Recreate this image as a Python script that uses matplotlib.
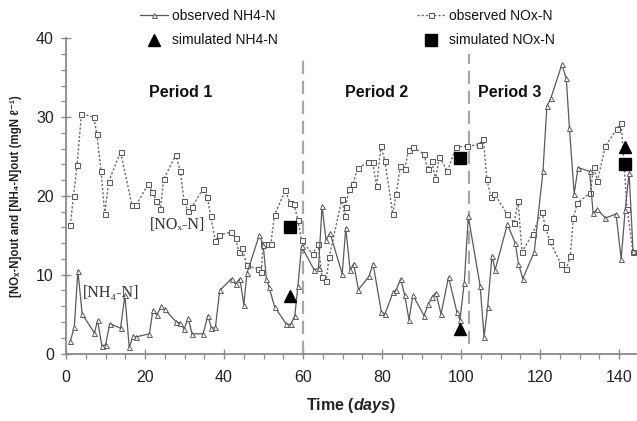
import matplotlib
matplotlib.use("Agg")
import matplotlib.pyplot as plt
from matplotlib.lines import Line2D
from matplotlib.ticker import MultipleLocator

plt.rcParams['font.family'] = ['Liberation Sans', 'DejaVu Sans']
plt.rcParams['mathtext.fontset'] = 'custom'
plt.rcParams['mathtext.rm'] = 'Liberation Sans:bold'
plt.rcParams['mathtext.it'] = 'Liberation Sans:italic:bold'
plt.rcParams['mathtext.bf'] = 'Liberation Sans:bold'

# ---- data ----
nox_days = [1.1, 1.9, 2.8, 3.9, 7.0, 7.8, 8.9, 9.8, 10.8, 13.8, 16.7, 17.7, 20.8, 21.8,
            22.9, 23.9, 24.7, 27.8, 28.9, 29.9, 30.9, 31.9, 34.7, 35.8, 36.6, 37.8, 38.8,
            41.7, 42.9, 43.7, 44.6, 45.7, 48.6, 49.4, 49.9, 51.0, 51.8, 52.8, 55.5, 56.7,
            57.7, 58.7, 59.6, 62.4, 63.8, 64.8, 65.8, 66.6, 69.8, 70.6, 70.8, 71.6, 72.6,
            73.8, 76.5, 77.6, 78.6, 79.7, 80.7, 82.7, 83.6, 84.6, 85.7, 86.7, 87.8, 90.6,
            91.5, 92.6, 93.5, 94.5, 96.5, 98.7, 101.4, 104.4, 105.6, 106.5, 107.5, 108.4,
            111.6, 113.4, 114.4, 115.4, 118.1, 120.4, 121.3, 122.4, 125.2, 126.6, 127.6,
            128.4, 129.4, 132.7, 133.5, 134.5, 136.5, 139.4, 140.5, 142.0, 143.5]
nox_obs = [16.3, 20.0, 23.9, 30.4, 30.0, 27.9, 23.1, 17.7, 21.8, 25.6, 18.8, 18.8, 21.5, 20.5,
           19.4, 18.3, 22.1, 25.2, 23.2, 19.3, 18.1, 18.6, 20.9, 19.9, 17.4, 14.3, 15.0,
           15.4, 14.7, 12.9, 13.4, 11.2, 10.7, 10.3, 13.9, 13.9, 13.9, 17.6, 20.7, 19.1,
           19.0, 16.9, 14.4, 12.6, 13.9, 9.7, 9.2, 12.2, 19.6, 17.4, 18.6, 20.9, 21.5,
           23.5, 24.3, 24.3, 21.2, 26.3, 24.4, 17.7, 20.3, 23.8, 23.4, 25.8, 26.2, 25.3,
           23.4, 24.4, 22.1, 25.0, 23.1, 26.2, 26.3, 26.5, 27.2, 22.2, 19.9, 20.3,
           17.7, 16.6, 19.3, 12.9, 15.2, 18.0, 16.1, 14.3, 11.4, 10.7, 12.4,
           17.2, 19.1, 20.4, 23.7, 21.9, 26.3, 28.5, 29.3, 18.3, 12.9]

nh4_days = [1.1, 2.1, 3.0, 4.1, 7.2, 8.0, 9.1, 10.0, 11.1, 13.8, 14.9, 16.0, 17.0, 17.7,
            21.1, 22.0, 23.0, 24.1, 25.0, 27.9, 28.9, 29.9, 30.9, 31.9, 34.7, 35.9, 36.8,
            37.8, 38.9, 41.9, 42.9, 44.0, 45.0, 45.8, 48.9, 49.9, 50.7, 51.4, 52.8, 55.8,
            56.9, 57.9, 58.7, 59.6, 62.8, 63.9, 64.8, 65.8, 66.8, 69.9, 70.8, 71.9, 72.8,
            74.0, 76.7, 77.7, 79.8, 80.7, 82.8, 83.6, 84.7, 85.7, 86.8, 87.8, 90.6, 91.7,
            92.7, 93.6, 94.9, 96.8, 98.9, 99.7, 100.8, 101.8, 104.8, 105.8, 106.7, 107.8,
            108.6, 111.7, 113.7, 114.5, 115.6, 118.5, 120.7, 121.7, 122.7, 125.5, 126.6,
            127.4, 128.6, 129.6, 132.5, 133.4, 134.4, 136.5, 139.2, 140.5, 141.5, 142.5, 143.5]
nh4_obs = [1.6, 3.3, 10.5, 5.0, 2.6, 4.2, 0.9, 1.1, 3.8, 3.2, 7.4, 0.8, 2.2, 2.1,
           2.5, 5.5, 4.9, 6.0, 5.6, 4.0, 3.9, 3.1, 4.5, 2.5, 2.5, 4.8, 3.2,
           3.3, 8.0, 9.5, 8.8, 9.5, 6.2, 10.2, 15.0, 13.8, 9.5, 8.4, 5.9, 3.7,
           3.7, 4.8, 8.6, 13.6, 10.6, 10.8, 18.7, 14.4, 15.3, 10.1, 15.9, 10.6, 11.4,
           8.1, 9.8, 11.4, 5.3, 5.0, 7.8, 8.1, 9.5, 7.4, 4.3, 7.4, 4.8, 6.3,
           7.2, 7.7, 5.0, 9.7, 5.3, 4.3, 9.0, 17.4, 8.6, 2.1, 5.9, 12.4,
           10.6, 16.4, 14.0, 11.4, 9.5, 12.9, 23.1, 31.4, 32.4, 36.7, 34.9,
           28.6, 20.3, 23.6, 23.1, 17.8, 18.3, 17.2, 17.7, 12.0, 18.2, 22.9, 13.0]

sim_days = [56.8, 99.6, 141.4]
sim_nh4 = [7.3, 3.1, 26.2]
sim_nox = [16.1, 24.8, 24.0]

period_bounds = [60, 102]
period_labels = ["Period 1", "Period 2", "Period 3"]
period_label_x = [29, 78.7, 112.3]

# ---- figure ----
fig = plt.figure(figsize=(6.37, 4.21), dpi=100)
ax = fig.add_axes([66/637, (421-353.5)/421, 571/637, (353.5-38.3)/421])

ax.plot(nox_days, nox_obs, linestyle=(0, (1.6, 1.4)), color='#6a6a6a', lw=1.0,
        marker='s', ms=3.6, mfc='#f4f4f4', mec='#555555', mew=0.7, zorder=3)
ax.plot(nh4_days, nh4_obs, linestyle='-', color='#5a5a5a', lw=0.9,
        marker='^', ms=3.6, mfc='#f4f4f4', mec='#4a4a4a', mew=0.6, zorder=3)
ax.plot(sim_days, sim_nh4, linestyle='none', marker='^', ms=9, color='black', zorder=5)
ax.plot(sim_days, sim_nox, linestyle='none', marker='s', ms=8.3, color='black', zorder=5)

ax.vlines(period_bounds[0], 0, 37.5, colors='#a8a8a8', linestyles=(0, (6, 3)), lw=1.6, zorder=2)
ax.vlines(period_bounds[1], 1.2, 38.0, colors='#a8a8a8', linestyles=(0, (6, 3)), lw=1.6, zorder=2)

for x, lab in zip(period_label_x, period_labels):
    ax.text(x, 33.1, lab, ha='center', va='center', fontsize=11.5, fontweight='bold',
            color='#111111')

serif = ['Liberation Serif', 'DejaVu Serif']
ax.text(28.2, 16.3, "[NOₓ-N]", ha='center', va='center', fontsize=11.5,
        family=serif, color='#333333')
ax.text(11.5, 7.7, "[NH₄-N]", ha='center', va='center', fontsize=11.5,
        family=serif, color='#333333')

ax.set_xlim(0, 144.5)
ax.set_ylim(0, 40)
ax.xaxis.set_major_locator(MultipleLocator(20))
ax.xaxis.set_minor_locator(MultipleLocator(5))
ax.yaxis.set_major_locator(MultipleLocator(10))
ax.yaxis.set_minor_locator(MultipleLocator(2))

for s in ['top', 'right']:
    ax.spines[s].set_visible(False)
for s in ['left', 'bottom']:
    ax.spines[s].set_color('#8a8a8a')
    ax.spines[s].set_linewidth(1.3)

ax.tick_params(which='major', direction='inout', length=7.5, width=1.0, color='#8a8a8a',
               labelsize=11.5, labelcolor='#222222')
ax.tick_params(axis='x', which='major', pad=8)
ax.tick_params(axis='y', which='major', pad=5)
ax.tick_params(which='minor', direction='out', length=3.5, width=0.9, color='#8a8a8a')

ax.set_xlabel("Time $\\it{(days)}$", fontsize=11.5, fontweight='bold', labelpad=8)
ax.xaxis.label.set_color('#222222')
ax.set_ylabel("[NOₓ-N]out and [NH₄-N]out (mgN ℓ⁻¹)", fontsize=8.3, fontweight='bold',
              color='#222222', labelpad=10)

# legend
h_obs_nh4 = Line2D([], [], linestyle='-', color='#5a5a5a', lw=0.9, marker='^', ms=3.6,
                   mfc='#f4f4f4', mec='#4a4a4a', mew=0.6)
h_sim_nh4 = Line2D([], [], linestyle='none', marker='^', ms=9, color='black')
h_obs_nox = Line2D([], [], linestyle=(0, (1.6, 1.4)), color='#6a6a6a', lw=1.0, marker='s',
                   ms=3.6, mfc='#f4f4f4', mec='#555555', mew=0.7)
h_sim_nox = Line2D([], [], linestyle='none', marker='s', ms=8.3, color='black')

leg1 = fig.legend([h_obs_nh4, h_sim_nh4], ["observed NH4-N", "simulated NH4-N"],
                  loc='upper left', bbox_to_anchor=(140/637, 1 - 9/421), frameon=False,
                  borderpad=0, borderaxespad=0, handlelength=2.0, handletextpad=0.3,
                  labelspacing=0.75, fontsize=10, labelcolor='#111111')
leg2 = fig.legend([h_obs_nox, h_sim_nox], ["observed NOx-N", "simulated NOx-N"],
                  loc='upper left', bbox_to_anchor=(417/637, 1 - 9/421), frameon=False,
                  borderpad=0, borderaxespad=0, handlelength=2.0, handletextpad=0.3,
                  labelspacing=0.75, fontsize=10, labelcolor='#111111')

fig.savefig("out.png", dpi=100)
